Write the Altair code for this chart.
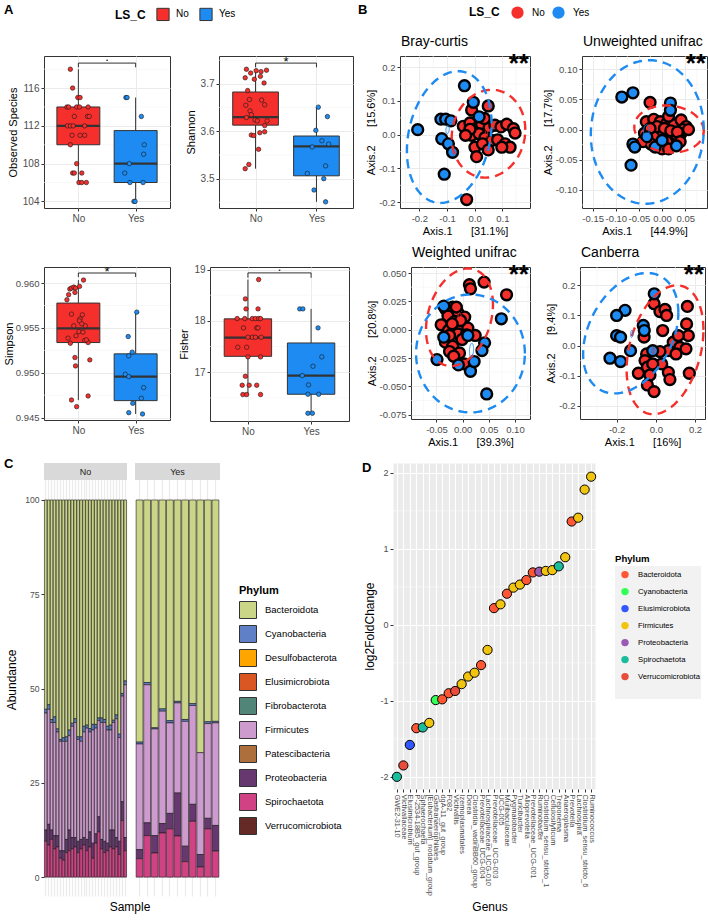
import altair as alt
import numpy as np
import pandas as pd

FONT = "Liberation Sans"
RED = "#F42F2C"
BLUE = "#1D8BF1"
EDGE = "#333333"
GRID = "#EBEBEB"
MINOR = "#F4F4F4"
TXT = "#4D4D4D"
GROUPS = ["No", "Yes"]
MINUS = "replace(datum.label, '\u2212', '-')"

# ---------------- A: alpha diversity (values and horizontal jitter offsets) ----------------
obs_no = [118, 116, 115, 115, 114, 114, 114, 114, 114, 113, 113, 113,
          112, 112, 112, 112, 111, 111, 111, 110, 108, 107, 107, 107, 106, 106, 106]
obs_no_jit = [-0.14, -0.10, -0.01, 0.03, -0.20, -0.17, -0.03, 0.02, 0.17, -0.07, 0.16, 0.19,
              -0.19, -0.14, -0.09, 0.11, -0.11, 0.03, 0.11, -0.14, -0.03, -0.10, -0.07, 0.06, 0.01, 0.06, 0.14]
obs_yes = [115, 115, 113, 110, 109, 108, 107, 106, 106, 104, 104]
obs_yes_jit = [-0.17, -0.15, 0.10, 0.15, 0.14, -0.11, -0.19, -0.10, 0.13, -0.03, -0.01]
obs_box_no = [106, 110, 112, 114, 118]        # whisker low, q1, median, q3, whisker high
obs_box_yes = [104, 106, 108, 111.5, 115]

sha_no = [3.731, 3.723, 3.728, 3.726, 3.729, 3.713, 3.710, 3.716, 3.702, 3.686, 3.667, 3.655, 3.666, 3.656,
          3.643, 3.635, 3.629, 3.624, 3.622, 3.622, 3.612, 3.592, 3.591, 3.597, 3.599, 3.562, 3.530, 3.521]
sha_no_jit = [-0.15, -0.08, 0.01, 0.09, 0.18, -0.17, -0.02, 0.08, 0.14, -0.13, -0.10, -0.16, 0.10, 0.15,
              -0.09, -0.07, -0.15, -0.01, 0.03, 0.19, 0.15, -0.07, -0.03, 0.07, 0.15, 0.05, -0.11, -0.17]
sha_yes = [3.651, 3.602, 3.631, 3.580, 3.573, 3.567, 3.511, 3.527, 3.500, 3.476, 3.451]
sha_yes_jit = [0.03, -0.01, 0.18, 0.09, 0.20, -0.07, -0.15, 0.15, 0.12, -0.04, 0.15]
sha_box_no = [3.521, 3.613, 3.630, 3.683, 3.731]
sha_box_yes = [3.451, 3.506, 3.568, 3.590, 3.651]

simp_no = [0.96033, 0.95933, 0.95944, 0.95955, 0.95944, 0.95963, 0.95814, 0.95870, 0.95896, 0.95654,
           0.95646, 0.95602, 0.95579, 0.95524, 0.95524, 0.95546, 0.95460, 0.95453, 0.95412, 0.95386,
           0.95330, 0.95360, 0.95337, 0.95367, 0.95170, 0.95144, 0.95077, 0.94697, 0.94742, 0.94623]
simp_no_jit = [0.09, -0.15, -0.12, -0.08, -0.05, 0.02, -0.20, -0.17, -0.06, -0.12, 0.07, 0.03, 0.02, -0.08, 0.12,
               0.06, 0.01, 0.08, -0.04, -0.18, -0.14, 0.11, 0.17, 0.14, -0.06, 0.20, -0.05, -0.12, 0.17, -0.03]
simp_yes = [0.95676, 0.95404, 0.95230, 0.95189, 0.94984, 0.94958, 0.94835, 0.94716, 0.94660, 0.94556, 0.94541]
simp_yes_jit = [0.02, -0.13, -0.06, -0.12, -0.18, -0.12, 0.14, 0.10, -0.05, -0.12, 0.12]
simp_box_no = [0.94697, 0.95337, 0.95494, 0.95777, 0.96033]
simp_box_yes = [0.94541, 0.94690, 0.94958, 0.95211, 0.95676]

fis_no = [18.805, 18.429, 18.234, 18.234, 18.045, 18.045, 18.045, 18.045, 18.045, 18.045, 17.864, 17.864,
          17.864, 17.682, 17.682, 17.682, 17.682, 17.487, 17.487, 17.299, 17.299, 16.922, 16.747, 16.747,
          16.747, 16.565, 16.565, 16.565]
fis_no_jit = [0.17, -0.04, -0.03, 0.16, -0.17, -0.05, 0.07, 0.12, 0.17, 0.20, -0.07, 0.14, 0.16, 0.07,
              0.12, 0.21, 0.0, -0.16, -0.02, 0.0, 0.20, -0.04, -0.09, 0.02, 0.14, -0.08, -0.02, 0.20]
fis_yes = [18.234, 18.234, 17.864, 17.299, 17.117, 16.935, 16.753, 16.571, 16.571, 16.201, 16.201]
fis_yes_jit = [-0.18, -0.13, 0.11, 0.17, 0.03, -0.14, -0.04, -0.05, 0.12, -0.05, 0.02]
fis_box_no = [16.565, 17.31, 17.675, 18.04, 18.805]
fis_box_yes = [16.201, 16.571, 16.935, 17.57, 18.234]

# significance brackets: line level, tip level, label, label shift
obs_sig = [118.65, 118.2, ".", -2]
sha_sig = [3.744, 3.735, "*", 3]
simp_sig = [0.96112, 0.96067, "*", 3]
fis_sig = [18.935, 18.84, ".", -2]

# ---------------- B: PCoA coordinates ----------------
bray_no_x = [-0.011, 0.049, -0.029, -0.041, -0.017, 0.004, 0.025, 0.052, 0.073, 0.095, 0.116, 0.140, 0.146, -0.011,
             0.016, 0.037, 0.061, 0.001, 0.028, 0.049, 0.083, 0.110, 0.128, 0.007, -0.017, -0.033, 0.035, 0.098]
bray_no_y = [0.073, 0.085, -0.192, 0.025, 0.035, 0.018, 0.031, 0.021, 0.028, 0.023, 0.031, 0.018, 0.005, -0.002,
             0.003, -0.009, -0.017, -0.037, -0.027, -0.045, -0.015, -0.027, -0.037, -0.065, 0.016, -0.002, 0.048, -0.037]
bray_yes_x = [-0.206, -0.037, -0.005, -0.122, -0.105, -0.086, -0.119, -0.095, -0.080, -0.110, 0.016]
bray_yes_y = [0.015, 0.145, 0.096, 0.046, 0.046, 0.041, -0.012, -0.027, -0.052, -0.117, 0.053]

unw_no_x = [-0.026, -0.034, -0.018, -0.004, 0.010, 0.026, 0.041, 0.052, 0.041, 0.025, 0.010, -0.004, -0.018, -0.038,
            -0.041, -0.024, 0.000, 0.014, 0.031, 0.045, 0.057, -0.011, 0.005, 0.019, 0.033, -0.026, 0.014, 0.039]
unw_no_y = [0.045, 0.013, 0.017, 0.013, 0.010, 0.008, 0.016, 0.005, -0.006, -0.012, -0.020, -0.005, -0.012, -0.006,
            -0.020, -0.024, -0.032, -0.032, -0.009, 0.000, 0.000, 0.005, 0.002, -0.002, -0.004, 0.002, 0.022, -0.020]
unw_yes_x = [-0.087, -0.063, -0.063, -0.067, 0.018, 0.018, -0.015, 0.000, 0.031, -0.059, -0.033]
unw_yes_y = [0.054, 0.061, -0.024, -0.059, 0.044, 0.032, -0.029, -0.018, -0.027, -0.029, -0.012]

wei_no_x = [0.041, 0.013, 0.015, 0.084, -0.033, -0.019, -0.009, 0.004, -0.028, -0.015, -0.003, 0.010, -0.041, -0.027,
            -0.009, 0.007, 0.024, -0.033, -0.019, -0.001, -0.025, -0.006, -0.017, 0.003, -0.025, -0.012, -0.004, -0.020]
wei_no_y = [0.0420, 0.0397, 0.0361, 0.0308, 0.0185, 0.0199, 0.0149, 0.0111, 0.0120, 0.0073, 0.0037, 0.0014, 0.0043,
            -0.0007, -0.0037, -0.0045, -0.0051, -0.0110, -0.0146, -0.0087, -0.0193, -0.0205, -0.0234, -0.0302,
            -0.0051, 0.0199, 0.0081, 0.0052]
wei_yes_x = [0.074, 0.046, -0.049, -0.036, -0.008, 0.015, 0.022, 0.042, 0.037, -0.036, 0.010]
wei_yes_y = [0.0096, -0.0567, -0.0264, -0.0066, -0.0311, -0.0367, -0.0281, -0.0116, -0.0184, 0.0208, -0.0051]

can_no_x = [-0.009, 0.021, 0.047, 0.055, 0.161, 0.157, 0.166, 0.171, 0.035, -0.060, 0.089, 0.123, 0.154, 0.064,
            0.021, -0.047, -0.055, -0.043, -0.089, -0.030, 0.064, 0.072, -0.043, -0.009, 0.030, 0.115, 0.103, -0.016]
can_no_y = [0.139, 0.113, 0.120, 0.100, 0.130, 0.072, 0.033, -0.092, 0.050, 0.028, 0.011, -0.006, -0.011, -0.017,
            -0.020, -0.028, -0.050, -0.072, -0.092, -0.098, -0.089, -0.113, -0.131, -0.153, -0.061, 0.033, -0.028, -0.061]
can_yes_x = [-0.008, -0.157, -0.200, -0.200, -0.180, -0.129, -0.234, -0.180, -0.064, -0.059, -0.016]
can_yes_y = [0.172, 0.117, 0.100, 0.033, 0.028, -0.017, -0.042, -0.053, 0.067, 0.050, -0.017]

# ellipses: centre x, centre y, half-width, half-height, phase (deg; 90 = axis aligned)
bray_ell_no, bray_ell_yes = [0.050, 0.003, 0.133, 0.130, 85], [-0.092, -0.007, 0.153, 0.195, 78]
bray_core_no, bray_core_yes = [0.043, 0.003, 0.004, 0.012, 80], [-0.098, 0.015, 0.006, 0.012, 80]
unw_ell_no, unw_ell_yes = [0.015, 0.001, 0.075, 0.039, 95], [-0.032, -0.004, 0.122, 0.119, 88]
unw_core_no, unw_core_yes = [0.015, 0.000, 0.003, 0.004, 90], [-0.034, -0.002, 0.006, 0.010, 85]
wei_ell_no, wei_ell_yes = [-0.006, 0.011, 0.064, 0.043, 75], [0.015, -0.021, 0.104, 0.052, 90]
wei_core_no, wei_core_yes = [-0.006, 0.011, 0.003, 0.004, 80], [0.017, -0.018, 0.004, 0.006, 80]
can_ell_no, can_ell_yes = [0.047, -0.014, 0.196, 0.214, 72], [-0.128, 0.041, 0.243, 0.200, 70]
can_core_no, can_core_yes = [-0.013, -0.017, 0.006, 0.010, 80], [-0.123, 0.039, 0.006, 0.012, 80]

# ---------------- C: phylum composition per sample ----------------
phyla = ["Bacteroidota", "Cyanobacteria", "Desulfobacterota", "Elusimicrobiota", "Fibrobacterota",
         "Firmicutes", "Patescibacteria", "Proteobacteria", "Spirochaetota", "Verrucomicrobiota"]
phy_colors = ["#CBD588", "#5F7FC7", "#FFA500", "#DA5724", "#508578",
              "#CD9BCD", "#AD6F3B", "#673770", "#D14285", "#652926"]

spiro_no = [9.5, 8.5, 10.0, 7.5, 8.0, 5.0, 4.5, 6.5, 7.0, 7.5, 8.0, 6.5, 7.5, 8.5,
            7.0, 8.0, 5.0, 9.0, 12.0, 7.5, 6.5, 7.0, 8.0, 7.5, 8.0, 6.0, 15.0, 7.0]
prot_no = [3.0, 5.5, 2.5, 3.5, 3.0, 2.0, 2.5, 3.5, 5.5, 3.0, 2.5, 3.0, 2.5, 2.0,
           3.0, 4.0, 4.0, 2.5, 4.0, 2.5, 3.0, 2.0, 4.5, 5.0, 2.5, 3.5, 5.0, 3.5]
firm_no = [31.0, 30.5, 28.5, 30.0, 27.5, 29.0, 29.0, 26.0, 25.0, 29.5, 30.5, 27.0, 26.0, 28.0,
           29.5, 26.5, 30.0, 28.0, 25.5, 31.0, 31.5, 30.0, 26.5, 28.5, 31.5, 27.5, 28.0, 40.5]
cyan_no = [1.0, 1.2, 0.8, 1.5, 0.8, 0.5, 1.0, 1.2, 1.5, 0.8, 1.0, 0.7, 1.2, 1.5,
           0.8, 0.9, 1.5, 1.0, 0.7, 1.2, 0.8, 1.0, 1.3, 0.6, 1.0, 0.9, 0.7, 1.0]
bact_no = [55.5, 54.3, 58.2, 57.5, 60.7, 63.5, 63.0, 62.8, 61.0, 59.2, 58.0, 62.8, 62.8, 60.0,
           59.7, 60.6, 59.5, 59.5, 57.8, 57.8, 58.2, 60.0, 59.7, 58.4, 57.0, 62.1, 51.3, 48.0]

spiro_yes = [4.9, 11.0, 6.4, 11.7, 12.8, 10.9, 4.1, 14.8, 2.7, 12.8, 6.9]
prot_yes = [2.4, 3.4, 4.6, 2.5, 4.1, 11.4, 4.1, 4.5, 3.3, 2.8, 6.8]
firm_yes = [28.0, 36.6, 28.3, 29.8, 24.0, 23.9, 33.1, 26.2, 27.0, 25.1, 27.2]
cyan_yes = [0.5, 0.6, 0.3, 0.6, 0.6, 0.4, 0.5, 0.5, 0.0, 0.5, 0.4]
bact_yes = [64.2, 48.4, 60.4, 55.4, 58.5, 53.4, 58.2, 54.0, 67.0, 58.8, 58.7]

no_ids = [f"N{i:02d}" for i in range(1, 29)]
yes_ids = [f"Y{i:02d}" for i in range(1, 12)]

# ---------------- D: differential abundance ----------------
genus = ["GWE2-31-10", "Victivallaceae", "Elusimicrobium", "P-2534-18B5_gut_group", "Sphaerochaeta",
         "[Eubacterium]_nodatum_group", "Gastranaerophilales", "dgA-11_gut_group", "F082", "Victivallis",
         "Izemoplasmatales", "Dorea", "Clostridia_vadinBB60_group", "Prevotellaceae_UCG-004",
         "Lachnospiraceae_UCG-010", "Prevotellaceae_UCG-003", "UCG-005", "Muribaculaceae", "Pygmaiobacter",
         "Turicibacter", "Alloprevotella", "Prevotellaceae_UCG-001", "Ruminobacter", "Clostridium_sensu_stricto_1",
         "Cellulosilyticum", "Treponema", "Anaeroplasma", "Prevotella", "Lachnospira",
         "Clostridium_sensu_stricto_6", "Ruminococcus"]
lfc = [-2.00, -1.85, -1.58, -1.36, -1.35, -1.29, -0.99, -0.98, -0.90, -0.87, -0.78, -0.68, -0.63, -0.53,
       -0.33, 0.22, 0.27, 0.41, 0.49, 0.53, 0.59, 0.69, 0.70, 0.71, 0.72, 0.77, 0.89, 1.36, 1.41, 1.78, 1.95]
genus_phylum = ["Spirochaetota", "Verrucomicrobiota", "Elusimicrobiota", "Bacteroidota", "Spirochaetota",
                "Firmicutes", "Cyanobacteria", "Bacteroidota", "Bacteroidota", "Verrucomicrobiota",
                "Firmicutes", "Firmicutes", "Firmicutes", "Bacteroidota", "Firmicutes", "Bacteroidota",
                "Firmicutes", "Bacteroidota", "Firmicutes", "Firmicutes", "Bacteroidota", "Bacteroidota",
                "Proteobacteria", "Firmicutes", "Firmicutes", "Spirochaetota", "Firmicutes", "Bacteroidota",
                "Firmicutes", "Firmicutes", "Firmicutes"]
d_phyla = ["Bacteroidota", "Cyanobacteria", "Elusimicrobiota", "Firmicutes", "Proteobacteria",
           "Spirochaetota", "Verrucomicrobiota"]
d_colors = ["#FF5733", "#33FF57", "#3357FF", "#F1C40F", "#9B59B6", "#1ABC9C", "#E74C3C"]


# ---------------- helpers ----------------
def frame(L, T, w, h, R, B):
    """Invisible rectangle fixing the outer extent of one panel."""
    return alt.Chart(pd.DataFrame({"k": [0]})).mark_rect(fill="transparent").encode(
        x=alt.value(-L), x2=alt.value(w + R), y=alt.value(-T), y2=alt.value(h + B))


def label(text, x, y, size=14, weight="normal", align="left", baseline="alphabetic"):
    return alt.Chart(pd.DataFrame({"t": [text]})).mark_text(
        align=align, baseline=baseline, fontSize=size, fontWeight=weight, color="black"
    ).encode(text="t:N", x=alt.value(x), y=alt.value(y))


def axis(**kw):
    base = dict(domain=False, grid=True, gridColor=GRID, gridWidth=1, tickColor=EDGE, tickSize=3,
                tickWidth=1, labelColor=TXT, labelFontSize=10, labelPadding=2, titleColor="black",
                titleFontSize=11, titleFontWeight="normal")
    base.update(kw)
    return alt.Axis(**base)


def ellipse_df(p, grp, eid):
    cx, cy, rx, ry, phi = p
    t = np.linspace(0.0, 2.0 * np.pi, 145)
    return pd.DataFrame({"LS_C": grp, "eid": eid, "i": np.arange(t.size),
                         "ex": cx + rx * np.cos(t), "ey": cy + ry * np.cos(t - np.radians(phi))})


def box_panel(ytitle, no_v, no_j, yes_v, yes_j, bx_no, bx_yes, ydom, yticks, yminor, yfmt, sig, size,
              ylab_size=10, ytitle_pad=4):
    L, T, w, h, R, B = size
    xs = alt.Scale(domain=[0.4, 2.6], nice=False, zero=False)
    ys = alt.Scale(domain=ydom, nice=False, zero=False)
    xax = axis(values=[1, 2], labelExpr="datum.value == 1 ? 'No' : 'Yes'", title=None)
    yax = axis(values=yticks, format=yfmt, title=ytitle, titlePadding=ytitle_pad, labelFontSize=ylab_size)

    def X(f):
        return alt.X(f, type="quantitative", scale=xs, axis=xax)

    def Y(f):
        return alt.Y(f, type="quantitative", scale=ys, axis=yax)

    fill = alt.Fill("LS_C:N", scale=alt.Scale(domain=GROUPS, range=[RED, BLUE]), legend=None)
    pts = pd.DataFrame({"LS_C": ["No"] * len(no_v) + ["Yes"] * len(yes_v),
                        "xj": [1 + j for j in no_j] + [2 + j for j in yes_j],
                        "v": list(no_v) + list(yes_v)})
    st = pd.DataFrame({"LS_C": GROUPS, "pos": [1.0, 2.0],
                       "lo": [bx_no[0], bx_yes[0]], "q1": [bx_no[1], bx_yes[1]], "med": [bx_no[2], bx_yes[2]],
                       "q3": [bx_no[3], bx_yes[3]], "hi": [bx_no[4], bx_yes[4]]})
    st["x1"] = st["pos"] - 0.375
    st["x2"] = st["pos"] + 0.375
    hline = pd.DataFrame({"a": [1.0], "b": [2.0], "yb": [sig[0]]})
    tips = pd.DataFrame({"xx": [1.0, 2.0], "yb": [sig[0]] * 2, "yt": [sig[1]] * 2})
    lab = pd.DataFrame({"xm": [1.5], "yb": [sig[0]], "s": [sig[2]]})
    layers = [
        frame(L, T, w, h, R, B),
        alt.Chart(pd.DataFrame({"m": yminor})).mark_rule(color=MINOR, strokeWidth=0.6).encode(y=Y("m")),
        alt.Chart(st).mark_rule(color=EDGE, strokeWidth=1).encode(x=X("pos"), y=Y("lo"), y2="hi"),
        alt.Chart(st).mark_rect(stroke=EDGE, strokeWidth=1).encode(
            x=X("x1"), x2="x2", y=Y("q1"), y2="q3", fill=fill),
        alt.Chart(st).mark_rule(color=EDGE, strokeWidth=2.2).encode(x=X("x1"), x2="x2", y=Y("med")),
        alt.Chart(pts).mark_point(filled=True, shape="circle", size=20, stroke="#1A1A1A",
                                  strokeWidth=0.6, opacity=1).encode(x=X("xj"), y=Y("v"), fill=fill),
        alt.Chart(hline).mark_rule(color="#1A1A1A", strokeWidth=0.9).encode(x=X("a"), x2="b", y=Y("yb")),
        alt.Chart(tips).mark_rule(color="#1A1A1A", strokeWidth=0.9).encode(x=X("xx"), y=Y("yb"), y2="yt"),
        alt.Chart(lab).mark_text(fontSize=13, baseline="alphabetic", dy=sig[3], color="black").encode(
            x=X("xm"), y=Y("yb"), text="s:N"),
    ]
    return alt.layer(*layers).properties(
        width=w, height=h, view=alt.ViewBackground(fill="white", stroke=EDGE, strokeWidth=1))


def pcoa_panel(title, xlab, ylab, nx, ny, yx, yy, ell_no, ell_yes, core_no, core_yes, xdom, ydom,
               xticks, yticks, xminor, yminor, xfmt, yfmt, size):
    L, T, w, h, R, B = size
    xs = alt.Scale(domain=xdom, nice=False, zero=False)
    ys = alt.Scale(domain=ydom, nice=False, zero=False)
    xax = axis(values=xticks, format=xfmt, title=xlab, labelExpr=MINUS, labelFontSize=9.5, titlePadding=3)
    yax = axis(values=yticks, format=yfmt, title=ylab, labelExpr=MINUS, labelFontSize=9.5, titlePadding=2)

    def X(f):
        return alt.X(f, type="quantitative", scale=xs, axis=xax)

    def Y(f):
        return alt.Y(f, type="quantitative", scale=ys, axis=yax)

    col = alt.Scale(domain=GROUPS, range=[RED, BLUE])
    pts = pd.DataFrame({"LS_C": ["No"] * len(nx) + ["Yes"] * len(yx), "px": nx + yx, "py": ny + yy})
    ell = pd.concat([ellipse_df(ell_no, "No", "e0"), ellipse_df(ell_yes, "Yes", "e1")])
    core = pd.concat([ellipse_df(core_no, "No", "c0"), ellipse_df(core_yes, "Yes", "c1")])
    layers = [
        frame(L, T, w, h, R, B),
        alt.Chart(pd.DataFrame({"m": xminor})).mark_rule(color=MINOR, strokeWidth=0.6).encode(x=X("m")),
        alt.Chart(pd.DataFrame({"m": yminor})).mark_rule(color=MINOR, strokeWidth=0.6).encode(y=Y("m")),
        alt.Chart(pts).mark_point(filled=True, shape="circle", size=118, stroke="black", strokeWidth=2.4,
                                  opacity=1).encode(
            x=X("px"), y=Y("py"), fill=alt.Fill("LS_C:N", scale=col, legend=None)),
        alt.Chart(ell).mark_line(strokeWidth=2.4, strokeDash=[9, 6]).encode(
            x=X("ex"), y=Y("ey"), stroke=alt.Stroke("LS_C:N", scale=col, legend=None),
            detail="eid:N", order="i:Q"),
        alt.Chart(core).mark_line(strokeWidth=1).encode(
            x=X("ex"), y=Y("ey"), stroke=alt.Stroke("LS_C:N", scale=col, legend=None),
            detail="eid:N", order="i:Q"),
        label(title, 1, -10, size=14),
        label("**", w - 1, -5, size=26, weight="bold", align="right", baseline="top"),
    ]
    return alt.layer(*layers).properties(
        width=w, height=h, view=alt.ViewBackground(fill="white", stroke=EDGE, strokeWidth=1))


def c_panel(ids, comp, size, strip, yaxis, legend, extra):
    L, T, w, h, R, B = size
    rows = []
    for k, sid in enumerate(ids):
        for r, p in enumerate(phyla):
            vals = comp.get(p)
            if vals is not None and vals[k] > 0:
                rows.append({"sample": sid, "Phylum": p, "rank": r, "abund": vals[k]})
    df = pd.DataFrame(rows)
    bars = alt.Chart(df).mark_bar(stroke="#1A1A1A", strokeWidth=0.6).encode(
        x=alt.X("sample:N", sort=ids, scale=alt.Scale(paddingInner=0.1, paddingOuter=0.15),
                axis=alt.Axis(labels=False, ticks=False, domain=False, title=None, grid=True,
                              gridColor=GRID, gridWidth=1.2, bandPosition=0.5)),
        y=alt.Y("abund:Q", stack="zero", scale=alt.Scale(domain=[-5.0, 109.8], nice=False, zero=False),
                axis=yaxis),
        fill=alt.Fill("Phylum:N", scale=alt.Scale(domain=phyla, range=phy_colors), legend=legend),
        order=alt.Order("rank:Q", sort="descending"))
    head = pd.DataFrame({"s": [strip]})
    layers = [
        frame(L, T, w, h, R, B),
        bars,
        alt.Chart(head).mark_rect(fill="#D9D9D9").encode(
            x=alt.value(0), x2=alt.value(w), y=alt.value(0), y2=alt.value(17)),
        alt.Chart(head).mark_text(fontSize=9, color="#1A1A1A", baseline="middle").encode(
            text="s:N", x=alt.value(w / 2), y=alt.value(8.5)),
    ] + list(extra)
    return alt.layer(*layers).properties(
        width=w, height=h, view=alt.ViewBackground(fill="white", stroke="transparent"))


# ---------------- header strip: panel letters and the two group legends ----------------
legend_a = alt.Legend(orient="none", legendX=71, legendY=7, direction="horizontal", title="LS_C",
                      titleOrient="left", titleFontSize=12, titleColor="black", titlePadding=10,
                      labelFontSize=10, labelColor="black", labelOffset=6, columnPadding=8,
                      symbolType="square", symbolSize=150, symbolStrokeColor=EDGE, symbolStrokeWidth=1,
                      symbolOpacity=1)
legend_b = alt.Legend(orient="none", legendX=425, legendY=6, direction="horizontal", title="LS_C",
                      titleOrient="left", titleFontSize=12, titleColor="black", titlePadding=11,
                      labelFontSize=10, labelColor="black", labelOffset=8, columnPadding=7,
                      symbolType="circle", symbolSize=150, symbolStrokeColor="transparent",
                      symbolStrokeWidth=0, symbolOpacity=1)
grp_df = pd.DataFrame({"LS_C": GROUPS})
grp_scale = alt.Scale(domain=GROUPS, range=[RED, BLUE])
header = alt.layer(
    frame(44, 0, 600, 26, 64, 0),
    alt.Chart(grp_df).mark_point(shape="square", filled=True, stroke=EDGE, strokeWidth=1, opacity=0).encode(
        x=alt.value(5), y=alt.value(5), fill=alt.Fill("LS_C:N", scale=grp_scale, legend=legend_a)),
    alt.Chart(grp_df).mark_point(shape="circle", filled=True, opacity=0).encode(
        x=alt.value(5), y=alt.value(5), fill=alt.Fill("LS_C:N", scale=grp_scale, legend=legend_b)),
    label("A", -40, 4, size=13, weight="bold", baseline="top"),
    label("B", 314, 4, size=13, weight="bold", baseline="top"),
).resolve_scale(fill="independent").properties(
    width=600, height=26, view=alt.ViewBackground(fill="white", stroke="transparent"))

# ---------------- panels A ----------------
obs = box_panel("Observed Species", obs_no, obs_no_jit, obs_yes, obs_yes_jit, obs_box_no, obs_box_yes,
                [103.3, 119.4], [104, 108, 112, 116], [106, 110, 114, 118], "d", obs_sig,
                (44, 28, 126, 152, 7, 31))
sha = box_panel("Shannon", sha_no, sha_no_jit, sha_yes, sha_yes_jit, sha_box_no, sha_box_yes,
                [3.438, 3.759], [3.5, 3.6, 3.7], [3.45, 3.55, 3.65, 3.75], ".1f", sha_sig,
                (40, 28, 134, 152, 3, 31))
simp = box_panel("Simpson", simp_no, simp_no_jit, simp_yes, simp_yes_jit, simp_box_no, simp_box_yes,
                 [0.94474, 0.96179], [0.945, 0.950, 0.955, 0.960], [0.9475, 0.9525, 0.9575], ".3f", simp_sig,
                 (48, 26, 126, 153, 4, 36), ylab_size=9.5, ytitle_pad=1)
fis = box_panel("Fisher", fis_no, fis_no_jit, fis_yes, fis_yes_jit, fis_box_no, fis_box_yes,
                [16.05, 19.05], [17, 18, 19], [16.5, 17.5, 18.5], "d", fis_sig,
                (34, 26, 139, 154, 7, 35))

# ---------------- panels B ----------------
SP = "\u00a0" * 6
bray = pcoa_panel("Bray-curtis", "Axis.1" + SP + "[31.1%]", "Axis.2" + SP + "[15.6%]",
                  bray_no_x, bray_no_y, bray_yes_x, bray_yes_y, bray_ell_no, bray_ell_yes,
                  bray_core_no, bray_core_yes, [-0.27, 0.2], [-0.217, 0.233],
                  [-0.2, -0.1, 0.0, 0.1], [-0.2, -0.1, 0.0, 0.1, 0.2],
                  [-0.25, -0.15, -0.05, 0.05, 0.15], [-0.15, -0.05, 0.05, 0.15], ".1f", ".1f",
                  (42, 28, 130, 152, 5, 31))
unw = pcoa_panel("Unweighted unifrac", "Axis.1" + SP + "[44.9%]", "Axis.2" + SP + "[17.7%]",
                 unw_no_x, unw_no_y, unw_yes_x, unw_yes_y, unw_ell_no, unw_ell_yes,
                 unw_core_no, unw_core_yes, [-0.173, 0.097], [-0.130, 0.122],
                 [-0.15, -0.10, -0.05, 0.0, 0.05], [-0.10, -0.05, 0.0, 0.05, 0.10],
                 [-0.125, -0.075, -0.025, 0.025, 0.075], [-0.125, -0.075, -0.025, 0.025, 0.075], ".2f", ".2f",
                 (45, 28, 125, 152, 7, 31))
wei = pcoa_panel("Weighted unifrac", "Axis.1" + SP + "[39.3%]", "Axis.2" + SP + "[20.8%]",
                 wei_no_x, wei_no_y, wei_yes_x, wei_yes_y, wei_ell_no, wei_ell_yes,
                 wei_core_no, wei_core_yes, [-0.0987, 0.1288], [-0.0788, 0.0553],
                 [-0.10, -0.05, 0.0, 0.05, 0.10], [-0.075, -0.05, -0.025, 0.0, 0.025, 0.05],
                 [-0.075, -0.025, 0.025, 0.075, 0.125], [-0.0625, -0.0375, -0.0125, 0.0125, 0.0375],
                 ".2f", ".3f", (53, 26, 119, 152, 5, 37))
can = pcoa_panel("Canberra", "Axis.1" + SP + "[16%]", "Axis.2" + SP + "[9.4%]",
                 can_no_x, can_no_y, can_yes_x, can_yes_y, can_ell_no, can_ell_yes,
                 can_core_no, can_core_yes, [-0.387, 0.251], [-0.244, 0.261],
                 [-0.2, 0.0, 0.2], [-0.2, -0.1, 0.0, 0.1, 0.2],
                 [-0.3, -0.1, 0.1], [-0.15, -0.05, 0.05, 0.15, 0.25], ".1f", ".1f",
                 (43, 26, 125, 152, 9, 37))

# ---------------- panel C ----------------
comp_no = {"Bacteroidota": bact_no, "Cyanobacteria": cyan_no, "Firmicutes": firm_no,
           "Proteobacteria": prot_no, "Spirochaetota": spiro_no}
comp_yes = {"Bacteroidota": bact_yes, "Cyanobacteria": cyan_yes, "Firmicutes": firm_yes,
            "Proteobacteria": prot_yes, "Spirochaetota": spiro_yes}
y_c = alt.Axis(values=[0, 25, 50, 75, 100], title="Abundance", grid=False, domain=False, tickColor=EDGE,
               tickSize=3, labelColor=TXT, labelFontSize=8.6, labelPadding=2, titleFontSize=12,
               titleColor="black", titleFontWeight="normal", titlePadding=6)
legend_c = alt.Legend(orient="none", legendX=104, legendY=122, title="Phylum", titleFontSize=11,
                      titleColor="black", titlePadding=5, labelFontSize=9.5, labelColor="black",
                      labelOffset=8, rowPadding=2, symbolType="square", symbolSize=289,
                      symbolStrokeColor=EDGE, symbolStrokeWidth=1)
c_no = c_panel(no_ids, comp_no, (44, 5, 83, 433, 3, 3), "No", y_c, None,
               [label("C", -40, -5, size=13, weight="bold", baseline="top")])
c_yes = c_panel(yes_ids, comp_yes, (3, 5, 85, 433, 136, 3), "Yes", None, legend_c, [])

# ---------------- panel D ----------------
ddf = pd.DataFrame({"Genus": genus, "lfc": lfc, "Phylum": genus_phylum})
d_xs = alt.Scale(type="point", padding=0.6)
d_ys = alt.Scale(domain=[-2.16, 2.13], nice=False, zero=False)
d_xax = alt.Axis(title=None, labelAngle=90, labelFontSize=7.4, labelColor=TXT, labelPadding=2,
                 labelOverlap=False, tickColor=EDGE, tickSize=3, domain=False, grid=True, gridColor="white",
                 gridWidth=1.1)
d_yax = alt.Axis(values=[-2, -1, 0, 1, 2], format="d", labelExpr=MINUS, title="log2FoldChange", grid=True,
                 gridColor="white", gridWidth=1.1, labelFontSize=9, labelColor=TXT, labelPadding=2,
                 tickColor=EDGE, tickSize=3, domain=False, titleFontSize=12, titleColor="black",
                 titleFontWeight="normal", titlePadding=3)
legend_d = alt.Legend(orient="none", legendX=222, legendY=91, title="Phylum", titleFontSize=9.6,
                      titleColor="black", titlePadding=7, labelFontSize=7.7, labelColor="black",
                      symbolType="circle", symbolSize=55, symbolStrokeColor="transparent",
                      symbolStrokeWidth=0, rowPadding=9, labelOffset=9, symbolOffset=6)
d_w, d_h = 202, 326
d_chart = alt.layer(
    frame(35, 5, d_w, d_h, 117, 110),
    alt.Chart(pd.DataFrame({"m": [-1.5, -0.5, 0.5, 1.5]})).mark_rule(color="white", strokeWidth=0.5).encode(
        y=alt.Y("m:Q", scale=d_ys, axis=d_yax)),
    alt.Chart(pd.DataFrame({"k": [0]})).mark_rect(fill="#F2F2F2").encode(
        x=alt.value(222), x2=alt.value(308), y=alt.value(103), y2=alt.value(236)),
    alt.Chart(ddf).mark_point(filled=True, shape="circle", size=85, stroke="black", strokeWidth=1,
                              opacity=1).encode(
        x=alt.X("Genus:N", sort=genus, scale=d_xs, axis=d_xax),
        y=alt.Y("lfc:Q", scale=d_ys, axis=d_yax),
        fill=alt.Fill("Phylum:N", scale=alt.Scale(domain=d_phyla, range=d_colors), legend=legend_d)),
    label("D", -31, -1, size=13, weight="bold", baseline="top"),
).properties(width=d_w, height=d_h, view=alt.ViewBackground(fill="#EBEBEB", stroke="transparent"))

# ---------------- footer strip: x titles of panels C and D ----------------
footer = alt.layer(
    frame(44, 0, 600, 17, 64, 0),
    label("Sample", 86, 6, size=12, align="center", baseline="middle"),
    label("Genus", 446, 6, size=12, align="center", baseline="middle"),
).properties(width=600, height=17, view=alt.ViewBackground(fill="white", stroke="transparent"))

# ---------------- assembly ----------------
# The page size is fixed: the layout origin (top-left of the header strip) sits 44px from the left edge.
IND = dict(fill="independent", stroke="independent")
row1 = alt.hconcat(obs, sha, bray, unw, spacing=0).resolve_scale(**IND)
row2 = alt.hconcat(simp, fis, wei, can, spacing=0).resolve_scale(**IND)
row3 = alt.hconcat(c_no, c_yes, d_chart, spacing=0).resolve_scale(**IND)
chart = alt.vconcat(header, row1, row2, row3, footer, spacing=0).resolve_scale(**IND).properties(
    autosize=alt.AutoSizeParams(type="none"),
    padding={"left": 44, "top": 0, "right": 664, "bottom": 922},
    background="white",
).configure(font=FONT)

chart.save("out.html", embed_options={"renderer": "svg", "actions": False})
